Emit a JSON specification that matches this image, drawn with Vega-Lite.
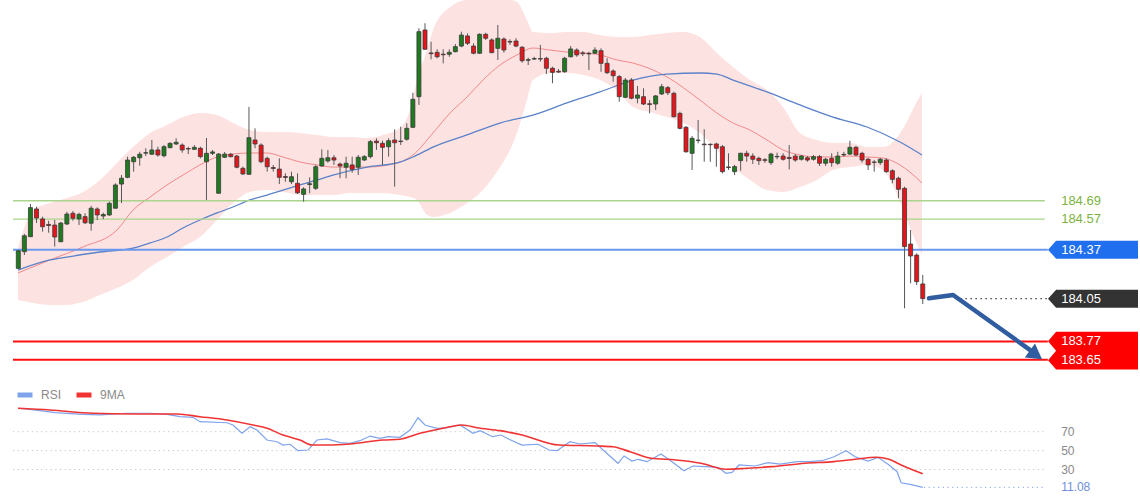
{
  "$schema": "https://vega.github.io/schema/vega-lite/v6.json",
  "width": 1140,
  "height": 500,
  "autosize": {"type": "fit", "contains": "padding"},
  "padding": 0,
  "background": "white",
  "config": {
    "view": {"stroke": null},
    "scale": {"continuousPadding": 0},
    "legend": {
      "orient": "none", "legendX": 15, "legendY": 385, "direction": "horizontal",
      "symbolType": "stroke", "symbolStrokeWidth": 5, "symbolSize": 225,
      "labelFont": "Liberation Sans", "labelFontSize": 12, "labelColor": "#8a8a8a",
      "columnPadding": 4, "labelOffset": 6, "padding": 0
    }
  },
  "datasets": {
    "candles": [
      {"i":1,"o":184.248,"h":184.368,"l":184.247,"c":184.363},
      {"i":2,"o":184.357,"h":184.473,"l":184.335,"c":184.461},
      {"i":3,"o":184.455,"h":184.669,"l":184.453,"c":184.645},
      {"i":4,"o":184.636,"h":184.651,"l":184.545,"c":184.577},
      {"i":5,"o":184.571,"h":184.586,"l":184.488,"c":184.520},
      {"i":6,"o":184.535,"h":184.559,"l":184.481,"c":184.528},
      {"i":7,"o":184.531,"h":184.564,"l":184.390,"c":184.453},
      {"i":8,"o":184.422,"h":184.551,"l":184.420,"c":184.544},
      {"i":9,"o":184.538,"h":184.618,"l":184.531,"c":184.603},
      {"i":10,"o":184.608,"h":184.623,"l":184.559,"c":184.575},
      {"i":11,"o":184.571,"h":184.612,"l":184.531,"c":184.601},
      {"i":12,"o":184.586,"h":184.608,"l":184.538,"c":184.546},
      {"i":13,"o":184.543,"h":184.656,"l":184.494,"c":184.641},
      {"i":14,"o":184.636,"h":184.647,"l":184.564,"c":184.597},
      {"i":15,"o":184.590,"h":184.612,"l":184.569,"c":184.600},
      {"i":16,"o":184.597,"h":184.684,"l":184.590,"c":184.673},
      {"i":17,"o":184.641,"h":184.804,"l":184.639,"c":184.793},
      {"i":18,"o":184.799,"h":184.858,"l":184.675,"c":184.837},
      {"i":19,"o":184.843,"h":184.978,"l":184.837,"c":184.956},
      {"i":20,"o":184.945,"h":184.982,"l":184.880,"c":184.974},
      {"i":21,"o":184.971,"h":185.010,"l":184.919,"c":184.994},
      {"i":22,"o":185.001,"h":185.033,"l":184.982,"c":185.004},
      {"i":23,"o":184.994,"h":185.087,"l":184.989,"c":185.022},
      {"i":24,"o":185.022,"h":185.043,"l":184.978,"c":184.989},
      {"i":25,"o":184.984,"h":185.054,"l":184.974,"c":185.043},
      {"i":26,"o":185.037,"h":185.072,"l":185.033,"c":185.065},
      {"i":27,"o":185.061,"h":185.098,"l":185.054,"c":185.072},
      {"i":28,"o":185.054,"h":185.065,"l":185.004,"c":185.022},
      {"i":29,"o":185.031,"h":185.043,"l":184.995,"c":185.028},
      {"i":30,"o":185.026,"h":185.054,"l":185.022,"c":185.039},
      {"i":31,"o":185.033,"h":185.043,"l":184.967,"c":184.978},
      {"i":32,"o":184.945,"h":185.100,"l":184.695,"c":185.000},
      {"i":33,"o":185.000,"h":185.022,"l":184.989,"c":185.009},
      {"i":34,"o":184.739,"h":185.002,"l":184.737,"c":184.995},
      {"i":35,"o":184.974,"h":185.009,"l":184.969,"c":184.995},
      {"i":36,"o":184.994,"h":185.002,"l":184.974,"c":184.978},
      {"i":37,"o":184.982,"h":184.989,"l":184.902,"c":184.909},
      {"i":38,"o":184.902,"h":184.913,"l":184.858,"c":184.865},
      {"i":39,"o":184.863,"h":185.303,"l":184.858,"c":185.102},
      {"i":40,"o":185.087,"h":185.163,"l":185.033,"c":185.061},
      {"i":41,"o":185.054,"h":185.065,"l":184.935,"c":184.945},
      {"i":42,"o":184.967,"h":184.978,"l":184.880,"c":184.912},
      {"i":43,"o":184.907,"h":184.924,"l":184.880,"c":184.901},
      {"i":44,"o":184.897,"h":184.967,"l":184.799,"c":184.843},
      {"i":45,"o":184.848,"h":184.869,"l":184.814,"c":184.842},
      {"i":46,"o":184.814,"h":184.880,"l":184.799,"c":184.847},
      {"i":47,"o":184.804,"h":184.869,"l":184.734,"c":184.742},
      {"i":48,"o":184.732,"h":184.778,"l":184.684,"c":184.767},
      {"i":49,"o":184.796,"h":184.843,"l":184.739,"c":184.801},
      {"i":50,"o":184.771,"h":184.924,"l":184.760,"c":184.912},
      {"i":51,"o":184.917,"h":185.026,"l":184.912,"c":184.967},
      {"i":52,"o":184.950,"h":185.022,"l":184.939,"c":184.971},
      {"i":53,"o":184.971,"h":184.989,"l":184.924,"c":184.956},
      {"i":54,"o":184.930,"h":184.939,"l":184.837,"c":184.917},
      {"i":55,"o":184.909,"h":184.978,"l":184.837,"c":184.935},
      {"i":56,"o":184.924,"h":184.978,"l":184.873,"c":184.895},
      {"i":57,"o":184.909,"h":184.989,"l":184.858,"c":184.974},
      {"i":58,"o":184.956,"h":184.989,"l":184.950,"c":184.978},
      {"i":59,"o":184.978,"h":185.087,"l":184.967,"c":185.076},
      {"i":60,"o":185.080,"h":185.098,"l":185.022,"c":185.069},
      {"i":61,"o":185.065,"h":185.082,"l":184.924,"c":185.039},
      {"i":62,"o":185.043,"h":185.098,"l":184.978,"c":185.082},
      {"i":63,"o":185.087,"h":185.157,"l":184.782,"c":185.069},
      {"i":64,"o":185.077,"h":185.174,"l":185.054,"c":185.080},
      {"i":65,"o":185.092,"h":185.196,"l":185.082,"c":185.163},
      {"i":66,"o":185.170,"h":185.396,"l":185.165,"c":185.353},
      {"i":67,"o":185.370,"h":185.817,"l":185.316,"c":185.795},
      {"i":68,"o":185.806,"h":185.850,"l":185.675,"c":185.680},
      {"i":69,"o":185.656,"h":185.729,"l":185.614,"c":185.651},
      {"i":70,"o":185.660,"h":185.680,"l":185.621,"c":185.631},
      {"i":71,"o":185.648,"h":185.680,"l":185.588,"c":185.644},
      {"i":72,"o":185.647,"h":185.680,"l":185.631,"c":185.660},
      {"i":73,"o":185.664,"h":185.714,"l":185.660,"c":185.697},
      {"i":74,"o":185.701,"h":185.795,"l":185.693,"c":185.773},
      {"i":75,"o":185.767,"h":185.784,"l":185.708,"c":185.719},
      {"i":76,"o":185.701,"h":185.719,"l":185.647,"c":185.654},
      {"i":77,"o":185.654,"h":185.784,"l":185.649,"c":185.778},
      {"i":78,"o":185.778,"h":185.788,"l":185.741,"c":185.752},
      {"i":79,"o":185.741,"h":185.752,"l":185.654,"c":185.658},
      {"i":80,"o":185.686,"h":185.839,"l":185.610,"c":185.752},
      {"i":81,"o":185.747,"h":185.758,"l":185.658,"c":185.675},
      {"i":82,"o":185.731,"h":185.745,"l":185.708,"c":185.727},
      {"i":83,"o":185.734,"h":185.752,"l":185.693,"c":185.701},
      {"i":84,"o":185.693,"h":185.701,"l":185.592,"c":185.605},
      {"i":85,"o":185.608,"h":185.625,"l":185.577,"c":185.612},
      {"i":86,"o":185.616,"h":185.631,"l":185.610,"c":185.619},
      {"i":87,"o":185.619,"h":185.708,"l":185.599,"c":185.616},
      {"i":88,"o":185.621,"h":185.631,"l":185.518,"c":185.556},
      {"i":89,"o":185.556,"h":185.566,"l":185.458,"c":185.529},
      {"i":90,"o":185.536,"h":185.551,"l":185.525,"c":185.531},
      {"i":91,"o":185.533,"h":185.631,"l":185.527,"c":185.621},
      {"i":92,"o":185.631,"h":185.701,"l":185.627,"c":185.682},
      {"i":93,"o":185.675,"h":185.686,"l":185.631,"c":185.643},
      {"i":94,"o":185.656,"h":185.669,"l":185.636,"c":185.651},
      {"i":95,"o":185.654,"h":185.664,"l":185.544,"c":185.649},
      {"i":96,"o":185.654,"h":185.693,"l":185.649,"c":185.675},
      {"i":97,"o":185.671,"h":185.686,"l":185.533,"c":185.588},
      {"i":98,"o":185.588,"h":185.621,"l":185.518,"c":185.527},
      {"i":99,"o":185.538,"h":185.549,"l":185.468,"c":185.507},
      {"i":100,"o":185.501,"h":185.512,"l":185.337,"c":185.370},
      {"i":101,"o":185.366,"h":185.492,"l":185.361,"c":185.479},
      {"i":102,"o":185.479,"h":185.492,"l":185.353,"c":185.360},
      {"i":103,"o":185.360,"h":185.440,"l":185.327,"c":185.381},
      {"i":104,"o":185.370,"h":185.425,"l":185.316,"c":185.322},
      {"i":105,"o":185.324,"h":185.348,"l":185.261,"c":185.319},
      {"i":106,"o":185.322,"h":185.381,"l":185.283,"c":185.375},
      {"i":107,"o":185.388,"h":185.453,"l":185.381,"c":185.435},
      {"i":108,"o":185.429,"h":185.440,"l":185.381,"c":185.396},
      {"i":109,"o":185.392,"h":185.403,"l":185.235,"c":185.239},
      {"i":110,"o":185.261,"h":185.272,"l":185.157,"c":185.163},
      {"i":111,"o":185.170,"h":185.178,"l":185.004,"c":185.010},
      {"i":112,"o":185.000,"h":185.113,"l":184.891,"c":185.098},
      {"i":113,"o":185.084,"h":185.218,"l":185.065,"c":185.086},
      {"i":114,"o":185.060,"h":185.157,"l":184.945,"c":185.056},
      {"i":115,"o":185.059,"h":185.065,"l":184.945,"c":185.056},
      {"i":116,"o":185.061,"h":185.069,"l":184.912,"c":185.033},
      {"i":117,"o":185.043,"h":185.054,"l":184.869,"c":184.880},
      {"i":118,"o":184.911,"h":185.000,"l":184.891,"c":184.907},
      {"i":119,"o":184.880,"h":184.924,"l":184.858,"c":184.913},
      {"i":120,"o":184.952,"h":185.004,"l":184.886,"c":185.000},
      {"i":121,"o":185.000,"h":185.017,"l":184.945,"c":184.982},
      {"i":122,"o":184.982,"h":185.000,"l":184.930,"c":184.961},
      {"i":123,"o":184.967,"h":184.978,"l":184.924,"c":184.952},
      {"i":124,"o":184.958,"h":184.969,"l":184.937,"c":184.954},
      {"i":125,"o":184.939,"h":185.004,"l":184.924,"c":184.995},
      {"i":126,"o":184.977,"h":185.004,"l":184.961,"c":184.980},
      {"i":127,"o":184.982,"h":185.000,"l":184.952,"c":184.961},
      {"i":128,"o":184.973,"h":185.054,"l":184.895,"c":184.966},
      {"i":129,"o":184.982,"h":184.995,"l":184.945,"c":184.956},
      {"i":130,"o":184.961,"h":184.989,"l":184.952,"c":184.982},
      {"i":131,"o":184.971,"h":184.982,"l":184.945,"c":184.956},
      {"i":132,"o":184.961,"h":184.989,"l":184.952,"c":184.978},
      {"i":133,"o":184.978,"h":184.989,"l":184.917,"c":184.935},
      {"i":134,"o":184.935,"h":184.971,"l":184.917,"c":184.961},
      {"i":135,"o":184.967,"h":185.000,"l":184.912,"c":184.939},
      {"i":136,"o":184.935,"h":185.010,"l":184.924,"c":184.982},
      {"i":137,"o":184.989,"h":185.010,"l":184.978,"c":184.993},
      {"i":138,"o":184.995,"h":185.082,"l":184.989,"c":185.039},
      {"i":139,"o":185.039,"h":185.048,"l":184.982,"c":184.989},
      {"i":140,"o":185.000,"h":185.010,"l":184.939,"c":184.956},
      {"i":141,"o":184.961,"h":184.971,"l":184.891,"c":184.924},
      {"i":142,"o":184.943,"h":184.956,"l":184.880,"c":184.941},
      {"i":143,"o":184.939,"h":184.969,"l":184.924,"c":184.961},
      {"i":144,"o":184.956,"h":184.967,"l":184.873,"c":184.880},
      {"i":145,"o":184.886,"h":184.895,"l":184.804,"c":184.830},
      {"i":146,"o":184.837,"h":184.847,"l":184.706,"c":184.765},
      {"i":147,"o":184.771,"h":184.782,"l":183.987,"c":184.390},
      {"i":148,"o":184.407,"h":184.499,"l":184.150,"c":184.329},
      {"i":149,"o":184.335,"h":184.346,"l":184.139,"c":184.161},
      {"i":150,"o":184.146,"h":184.205,"l":184.015,"c":184.050}
    ],
    "band": [
      {"i":0.95,"up":184.381,"lo":184.041},{"i":3.42,"up":184.629,"lo":184.022},
      {"i":6.22,"up":184.675,"lo":184.009},{"i":9.02,"up":184.708,"lo":184.009},
      {"i":11.66,"up":184.747,"lo":184.028},{"i":14.46,"up":184.826,"lo":184.074},
      {"i":17.26,"up":184.937,"lo":184.120},{"i":19.90,"up":185.041,"lo":184.172},
      {"i":22.70,"up":185.133,"lo":184.257},{"i":25.50,"up":185.185,"lo":184.322},
      {"i":28.13,"up":185.237,"lo":184.388},{"i":30.93,"up":185.263,"lo":184.453},
      {"i":33.73,"up":185.250,"lo":184.564},{"i":36.37,"up":185.198,"lo":184.675},
      {"i":39.17,"up":185.152,"lo":184.747},{"i":41.97,"up":185.139,"lo":184.760},
      {"i":44.61,"up":185.139,"lo":184.747},{"i":47.41,"up":185.133,"lo":184.727},
      {"i":50.21,"up":185.120,"lo":184.727},{"i":52.84,"up":185.107,"lo":184.727},
      {"i":55.64,"up":185.107,"lo":184.741},{"i":58.44,"up":185.100,"lo":184.741},
      {"i":61.08,"up":185.120,"lo":184.741},{"i":63.88,"up":185.165,"lo":184.727},
      {"i":65.53,"up":185.283,"lo":184.714},{"i":66.68,"up":185.479,"lo":184.695},
      {"i":68.33,"up":185.675,"lo":184.597},{"i":69.32,"up":185.806,"lo":184.584},
      {"i":72.12,"up":185.956,"lo":184.610},{"i":74.92,"up":186.002,"lo":184.675},
      {"i":77.56,"up":186.002,"lo":184.760},{"i":80.36,"up":186.002,"lo":184.910},
      {"i":82.00,"up":186.002,"lo":185.022},{"i":83.16,"up":185.989,"lo":185.133},
      {"i":84.80,"up":185.871,"lo":185.348},{"i":85.79,"up":185.793,"lo":185.479},
      {"i":88.59,"up":185.786,"lo":185.525},{"i":91.39,"up":185.793,"lo":185.525},
      {"i":94.03,"up":185.793,"lo":185.512},{"i":96.83,"up":185.773,"lo":185.479},
      {"i":99.63,"up":185.760,"lo":185.414},{"i":102.27,"up":185.760,"lo":185.303},
      {"i":105.07,"up":185.773,"lo":185.270},{"i":107.87,"up":185.786,"lo":185.237},
      {"i":110.50,"up":185.793,"lo":185.198},{"i":113.30,"up":185.760,"lo":185.133},
      {"i":116.10,"up":185.656,"lo":185.022},{"i":118.74,"up":185.564,"lo":184.910},
      {"i":121.54,"up":185.479,"lo":184.826},{"i":124.34,"up":185.414,"lo":184.760},
      {"i":126.98,"up":185.303,"lo":184.747},{"i":129.78,"up":185.133,"lo":184.780},
      {"i":132.58,"up":185.087,"lo":184.826},{"i":135.22,"up":185.067,"lo":184.891},
      {"i":138.02,"up":185.067,"lo":184.910},{"i":140.82,"up":185.041,"lo":184.924},
      {"i":143.46,"up":185.041,"lo":184.891},{"i":145.43,"up":185.087,"lo":184.760},
      {"i":147.08,"up":185.185,"lo":184.597},{"i":148.73,"up":185.316,"lo":184.433},
      {"i":149.88,"up":185.394,"lo":184.335}
    ],
    "mid": [
      {"i":0.95,"p":184.218},{"i":6.22,"p":184.303},{"i":11.66,"p":184.388},{"i":17.26,"p":184.499},
      {"i":19.90,"p":184.629},{"i":22.70,"p":184.714},{"i":25.50,"p":184.793},{"i":28.13,"p":184.858},
      {"i":30.93,"p":184.924},{"i":33.73,"p":184.976},{"i":36.37,"p":184.995},{"i":39.17,"p":185.002},
      {"i":41.97,"p":185.002},{"i":44.61,"p":184.976},{"i":47.41,"p":184.943},{"i":50.21,"p":184.924},
      {"i":52.84,"p":184.910},{"i":58.44,"p":184.910},{"i":63.88,"p":184.943},{"i":66.02,"p":184.989},
      {"i":69.32,"p":185.133},{"i":72.12,"p":185.263},{"i":74.92,"p":185.368},{"i":77.56,"p":185.479},
      {"i":80.36,"p":185.577},{"i":83.16,"p":185.643},{"i":85.79,"p":185.688},{"i":88.59,"p":185.675},
      {"i":91.39,"p":185.662},{"i":94.03,"p":185.656},{"i":96.83,"p":185.643},{"i":99.63,"p":185.610},
      {"i":102.27,"p":185.590},{"i":107.87,"p":185.499},{"i":113.30,"p":185.348},{"i":116.10,"p":185.263},
      {"i":118.74,"p":185.198},{"i":121.54,"p":185.152},{"i":124.34,"p":185.087},{"i":126.98,"p":185.022},
      {"i":129.78,"p":184.989},{"i":132.58,"p":184.976},{"i":135.22,"p":184.976},{"i":138.02,"p":184.982},
      {"i":140.82,"p":184.976},{"i":143.46,"p":184.969},{"i":146.25,"p":184.924},{"i":149.88,"p":184.806}
    ],
    "ma": [
      {"i":0.95,"p":184.237},{"i":6.22,"p":184.303},{"i":9.02,"p":184.322},{"i":14.46,"p":184.355},
      {"i":19.90,"p":184.381},{"i":22.70,"p":184.414},{"i":25.50,"p":184.453},{"i":28.13,"p":184.512},
      {"i":30.93,"p":184.564},{"i":33.73,"p":184.610},{"i":36.37,"p":184.649},{"i":39.17,"p":184.695},
      {"i":41.97,"p":184.727},{"i":44.61,"p":184.760},{"i":47.41,"p":184.793},{"i":50.21,"p":184.826},
      {"i":52.84,"p":184.858},{"i":58.44,"p":184.910},{"i":63.88,"p":184.943},{"i":66.02,"p":184.976},
      {"i":69.32,"p":185.041},{"i":74.92,"p":185.120},{"i":80.36,"p":185.198},{"i":85.79,"p":185.250},
      {"i":91.39,"p":185.329},{"i":96.83,"p":185.401},{"i":102.27,"p":185.479},{"i":107.87,"p":185.518},
      {"i":113.30,"p":185.525},{"i":116.10,"p":185.518},{"i":118.74,"p":185.479},{"i":124.34,"p":185.401},
      {"i":129.78,"p":185.316},{"i":135.22,"p":185.237},{"i":140.82,"p":185.172},{"i":146.25,"p":185.074},
      {"i":149.88,"p":184.989}
    ],
    "rsi": [
      {"s":"RSI","i":0.95,"r":94.8},{"s":"RSI","i":4.57,"r":92.2},{"s":"RSI","i":7.05,"r":90.1},{"s":"RSI","i":11.66,"r":88.4},{"s":"RSI","i":14.46,"r":87.7},
      {"s":"RSI","i":18.91,"r":89.5},{"s":"RSI","i":22.70,"r":89.5},{"s":"RSI","i":25.50,"r":88.4},{"s":"RSI","i":27.64,"r":85.9},{"s":"RSI","i":29.78,"r":85.2},
      {"s":"RSI","i":30.93,"r":80.6},{"s":"RSI","i":35.38,"r":79.5},{"s":"RSI","i":36.37,"r":77.1},{"s":"RSI","i":37.85,"r":68.3},{"s":"RSI","i":39.17,"r":75.3},
      {"s":"RSI","i":40.32,"r":71.8},{"s":"RSI","i":41.97,"r":61.2},{"s":"RSI","i":43.62,"r":59.4},{"s":"RSI","i":44.61,"r":55.9},{"s":"RSI","i":45.76,"r":56.7},
      {"s":"RSI","i":47.08,"r":49.9},{"s":"RSI","i":48.73,"r":50.6},{"s":"RSI","i":50.21,"r":61.2},{"s":"RSI","i":51.86,"r":62.3},{"s":"RSI","i":54.00,"r":58.4},
      {"s":"RSI","i":55.64,"r":57.7},{"s":"RSI","i":57.29,"r":60.5},{"s":"RSI","i":58.94,"r":65.4},{"s":"RSI","i":60.59,"r":63.0},{"s":"RSI","i":61.90,"r":64.7},
      {"s":"RSI","i":63.88,"r":64.1},{"s":"RSI","i":65.53,"r":71.8},{"s":"RSI","i":66.85,"r":84.8},{"s":"RSI","i":68.00,"r":77.1},{"s":"RSI","i":69.98,"r":73.6},
      {"s":"RSI","i":71.63,"r":74.2},{"s":"RSI","i":73.77,"r":77.1},{"s":"RSI","i":75.91,"r":68.3},{"s":"RSI","i":77.07,"r":71.1},{"s":"RSI","i":79.12,"r":64.7},
      {"s":"RSI","i":80.53,"r":66.5},{"s":"RSI","i":81.84,"r":62.0},{"s":"RSI","i":83.98,"r":55.9},{"s":"RSI","i":86.62,"r":56.7},{"s":"RSI","i":88.43,"r":50.6},
      {"s":"RSI","i":89.75,"r":49.9},{"s":"RSI","i":91.89,"r":59.4},{"s":"RSI","i":93.54,"r":57.0},{"s":"RSI","i":96.01,"r":58.4},{"s":"RSI","i":97.66,"r":48.8},
      {"s":"RSI","i":99.80,"r":36.6},{"s":"RSI","i":100.79,"r":44.3},{"s":"RSI","i":102.11,"r":39.0},{"s":"RSI","i":103.10,"r":40.8},{"s":"RSI","i":104.58,"r":38.3},
      {"s":"RSI","i":106.88,"r":46.4},{"s":"RSI","i":108.69,"r":38.3},{"s":"RSI","i":110.67,"r":28.7},{"s":"RSI","i":112.15,"r":33.7},{"s":"RSI","i":114.13,"r":33.0},
      {"s":"RSI","i":116.27,"r":32.3},{"s":"RSI","i":117.59,"r":26.0},{"s":"RSI","i":118.58,"r":27.0},{"s":"RSI","i":119.73,"r":34.8},{"s":"RSI","i":122.37,"r":33.7},
      {"s":"RSI","i":124.51,"r":37.2},{"s":"RSI","i":126.49,"r":35.8},{"s":"RSI","i":129.29,"r":38.3},{"s":"RSI","i":131.27,"r":38.3},{"s":"RSI","i":133.41,"r":39.3},
      {"s":"RSI","i":135.39,"r":43.5},{"s":"RSI","i":137.37,"r":49.9},{"s":"RSI","i":138.85,"r":43.5},{"s":"RSI","i":140.99,"r":39.0},{"s":"RSI","i":142.64,"r":42.9},
      {"s":"RSI","i":144.45,"r":34.8},{"s":"RSI","i":145.77,"r":27.7},{"s":"RSI","i":146.43,"r":16.0},{"s":"RSI","i":147.92,"r":14.3},{"s":"RSI","i":150,"r":11.08},
      {"s":"9MA","i":0.95,"r":94.8},{"s":"9MA","i":6.22,"r":93.0},{"s":"9MA","i":13.31,"r":89.5},{"s":"9MA","i":19.90,"r":88.7},{"s":"9MA","i":27.15,"r":88.7},
      {"s":"9MA","i":30.93,"r":85.9},{"s":"9MA","i":35.38,"r":82.4},{"s":"9MA","i":39.66,"r":77.1},{"s":"9MA","i":41.97,"r":73.6},{"s":"9MA","i":44.61,"r":66.5},
      {"s":"9MA","i":47.41,"r":61.2},{"s":"9MA","i":49.39,"r":55.9},{"s":"9MA","i":51.86,"r":55.9},{"s":"9MA","i":55.64,"r":57.0},{"s":"9MA","i":61.08,"r":61.2},
      {"s":"9MA","i":63.88,"r":62.0},{"s":"9MA","i":67.18,"r":68.3},{"s":"9MA","i":70.97,"r":73.6},{"s":"9MA","i":74.10,"r":77.1},{"s":"9MA","i":76.57,"r":74.2},
      {"s":"9MA","i":80.36,"r":71.1},{"s":"9MA","i":83.98,"r":66.5},{"s":"9MA","i":90.08,"r":55.9},{"s":"9MA","i":96.34,"r":54.9},{"s":"9MA","i":98.97,"r":54.1},
      {"s":"9MA","i":101.78,"r":48.8},{"s":"9MA","i":105.24,"r":41.9},{"s":"9MA","i":109.36,"r":40.1},{"s":"9MA","i":113.48,"r":36.6},{"s":"9MA","i":117.59,"r":30.2},
      {"s":"9MA","i":121.05,"r":31.3},{"s":"9MA","i":125.17,"r":33.0},{"s":"9MA","i":130.61,"r":36.6},{"s":"9MA","i":135.39,"r":38.3},{"s":"9MA","i":138.85,"r":40.8},
      {"s":"9MA","i":142.31,"r":42.9},{"s":"9MA","i":144.45,"r":40.8},{"s":"9MA","i":146.43,"r":34.8},{"s":"9MA","i":150,"r":25.5}
    ],
    "arrow": [
      {"k":1,"i":151.03,"p":184.052},
      {"k":2,"i":155.0,"p":184.074},
      {"k":3,"i":167.7,"p":183.714}
    ]
  },
  "resolve": {"scale": {"y": "independent"}},
  "layer": [
    {
      "layer": [
        {
          "data": {"name": "band"},
          "mark": {"type": "area", "color": "#fde2e2", "opacity": 1, "interpolate": "monotone"},
          "encoding": {
            "x": {"field": "i", "type": "quantitative", "scale": {"domain": [-2.015, 185.79], "nice": false, "zero": false, "padding": 0}, "axis": null},
            "y": {"field": "up", "type": "quantitative", "scale": {"domain": [182.734, 186.002], "nice": false, "zero": false, "padding": 0}, "axis": null},
            "y2": {"field": "lo"}
          }
        },
        {
          "data": {"name": "mid"},
          "mark": {"type": "line", "color": "#f08a8a", "strokeWidth": 1, "interpolate": "monotone"},
          "encoding": {
            "x": {"field": "i", "type": "quantitative"},
            "y": {"field": "p", "type": "quantitative"}
          }
        },
        {
          "data": {"name": "ma"},
          "mark": {"type": "line", "color": "#5a82c8", "strokeWidth": 1.3, "interpolate": "monotone"},
          "encoding": {
            "x": {"field": "i", "type": "quantitative"},
            "y": {"field": "p", "type": "quantitative"}
          }
        },
        {
          "data": {"values": [{"p": 184.69}, {"p": 184.57}]},
          "mark": {"type": "rule", "color": "#aad48c", "strokeWidth": 1.3},
          "encoding": {
            "x": {"datum": 0.13, "type": "quantitative"},
            "x2": {"datum": 170.1},
            "y": {"field": "p", "type": "quantitative"}
          }
        },
        {
          "data": {"values": [{"p": 184.37}]},
          "mark": {"type": "rule", "color": "#6a98ee", "strokeWidth": 2},
          "encoding": {
            "x": {"datum": 0.13, "type": "quantitative"},
            "x2": {"datum": 170.6},
            "y": {"field": "p", "type": "quantitative"}
          }
        },
        {
          "data": {"values": [{"p": 183.77}, {"p": 183.65}]},
          "mark": {"type": "rule", "color": "#ff1010", "strokeWidth": 2},
          "encoding": {
            "x": {"datum": 0.13, "type": "quantitative"},
            "x2": {"datum": 170.6},
            "y": {"field": "p", "type": "quantitative"}
          }
        },
        {
          "data": {"values": [{"p": 184.05}]},
          "mark": {"type": "rule", "color": "#444444", "strokeWidth": 1.2, "strokeDash": [1.5, 3.5]},
          "encoding": {
            "x": {"datum": 156.2, "type": "quantitative"},
            "x2": {"datum": 170.5},
            "y": {"field": "p", "type": "quantitative"}
          }
        },
        {
          "data": {"name": "candles"},
          "mark": {"type": "rule", "color": "#585858", "strokeWidth": 1},
          "encoding": {
            "x": {"field": "i", "type": "quantitative"},
            "y": {"field": "l", "type": "quantitative"},
            "y2": {"field": "h"}
          }
        },
        {
          "data": {"name": "candles"},
          "mark": {"type": "bar", "size": 4, "stroke": "#3a3a3a", "strokeWidth": 0.8},
          "encoding": {
            "x": {"field": "i", "type": "quantitative"},
            "y": {"field": "o", "type": "quantitative"},
            "y2": {"field": "c"},
            "color": {"condition": {"test": "datum.c >= datum.o", "value": "#1e7b1e"}, "value": "#e8141a"}
          }
        },
        {
          "data": {"name": "arrow"},
          "mark": {"type": "line", "color": "#305ca0", "strokeWidth": 4.5, "strokeCap": "round", "strokeJoin": "round"},
          "encoding": {
            "x": {"field": "i", "type": "quantitative"},
            "y": {"field": "p", "type": "quantitative"},
            "order": {"field": "k", "type": "quantitative"}
          }
        },
        {
          "data": {"values": [{"p": 183.682}]},
          "mark": {"type": "point", "shape": "triangle-right", "filled": true, "color": "#305ca0", "opacity": 1, "size": 300, "angle": 36},
          "encoding": {
            "x": {"datum": 168.65, "type": "quantitative"},
            "y": {"field": "p", "type": "quantitative"}
          }
        },
        {
          "data": {"values": [{"p": 184.37}]},
          "mark": {"type": "point", "shape": "M-1,0L-0.82,-0.2L1,-0.2L1,0.2L-0.82,0.2Z", "filled": true, "color": "#1f6fef", "opacity": 1, "size": 8100, "strokeWidth": 0},
          "encoding": {
            "x": {"datum": 178.05, "type": "quantitative"},
            "y": {"field": "p", "type": "quantitative"}
          }
        },
        {
          "data": {"values": [{"p": 184.05}]},
          "mark": {"type": "point", "shape": "M-1,0L-0.82,-0.2L1,-0.2L1,0.2L-0.82,0.2Z", "filled": true, "color": "#333333", "opacity": 1, "size": 8100, "strokeWidth": 0},
          "encoding": {
            "x": {"datum": 178.05, "type": "quantitative"},
            "y": {"field": "p", "type": "quantitative"}
          }
        },
        {
          "data": {"values": [{"p": 183.71}]},
          "mark": {"type": "point", "shape": "M-1,-0.211L-0.82,-0.418L1,-0.418L1,0.418L-0.82,0.418L-1,0.211L-0.82,0Z", "filled": true, "color": "#ff0000", "opacity": 1, "size": 8100, "strokeWidth": 0},
          "encoding": {
            "x": {"datum": 178.05, "type": "quantitative"},
            "y": {"field": "p", "type": "quantitative"}
          }
        },
        {
          "data": {"values": [{"p": 184.69, "t": "184.69"}, {"p": 184.57, "t": "184.57"}]},
          "mark": {"type": "text", "align": "left", "baseline": "middle", "font": "Liberation Sans", "fontSize": 13, "color": "#7cb342"},
          "encoding": {
            "x": {"datum": 172.8, "type": "quantitative"},
            "y": {"field": "p", "type": "quantitative"},
            "text": {"field": "t"}
          }
        },
        {
          "data": {"values": [{"p": 184.37, "t": "184.37"}, {"p": 184.05, "t": "184.05"}, {"p": 183.77, "t": "183.77"}, {"p": 183.65, "t": "183.65"}]},
          "mark": {"type": "text", "align": "left", "baseline": "middle", "font": "Liberation Sans", "fontSize": 13, "color": "#ffffff"},
          "encoding": {
            "x": {"datum": 172.8, "type": "quantitative"},
            "y": {"field": "p", "type": "quantitative"},
            "text": {"field": "t"}
          }
        }
      ]
    },
    {
      "layer": [
        {
          "data": {"values": [{"r": 70}, {"r": 50}, {"r": 30}]},
          "mark": {"type": "rule", "color": "#c4c4c4", "strokeWidth": 1, "strokeDash": [1.2, 3.5]},
          "encoding": {
            "x": {"datum": 0.13, "type": "quantitative"},
            "x2": {"datum": 170.0},
            "y": {"field": "r", "type": "quantitative", "scale": {"domain": [-2.27, 526.8], "nice": false, "zero": false, "padding": 0}, "axis": null}
          }
        },
        {
          "data": {"values": [{"r": 11.08}]},
          "mark": {"type": "rule", "color": "#9db5e8", "strokeWidth": 1.2, "strokeDash": [1.2, 3.5]},
          "encoding": {
            "x": {"datum": 150.2, "type": "quantitative"},
            "x2": {"datum": 170.0},
            "y": {"field": "r", "type": "quantitative"}
          }
        },
        {
          "data": {"name": "rsi"},
          "transform": [{"filter": "datum.s == 'RSI'"}],
          "mark": {"type": "line", "strokeWidth": 1.2},
          "encoding": {
            "x": {"field": "i", "type": "quantitative"},
            "y": {"field": "r", "type": "quantitative"},
            "color": {"field": "s", "type": "nominal", "scale": {"domain": ["RSI", "9MA"], "range": ["#7fa3ea", "#f03434"]}, "legend": {"title": null}}
          }
        },
        {
          "data": {"name": "rsi"},
          "transform": [{"filter": "datum.s == '9MA'"}],
          "mark": {"type": "line", "strokeWidth": 1.6, "interpolate": "monotone"},
          "encoding": {
            "x": {"field": "i", "type": "quantitative"},
            "y": {"field": "r", "type": "quantitative"},
            "color": {"field": "s", "type": "nominal"}
          }
        },
        {
          "data": {"values": [{"r": 70, "t": "70"}, {"r": 50, "t": "50"}, {"r": 30, "t": "30"}]},
          "mark": {"type": "text", "align": "left", "baseline": "middle", "font": "Liberation Sans", "fontSize": 12, "color": "#8a8a8a"},
          "encoding": {
            "x": {"datum": 172.8, "type": "quantitative"},
            "y": {"field": "r", "type": "quantitative"},
            "text": {"field": "t"}
          }
        },
        {
          "data": {"values": [{"r": 11.08, "t": "11.08"}]},
          "mark": {"type": "text", "align": "left", "baseline": "middle", "font": "Liberation Sans", "fontSize": 12, "color": "#6d8fd8"},
          "encoding": {
            "x": {"datum": 172.8, "type": "quantitative"},
            "y": {"field": "r", "type": "quantitative"},
            "text": {"field": "t"}
          }
        }
      ]
    }
  ]
}
